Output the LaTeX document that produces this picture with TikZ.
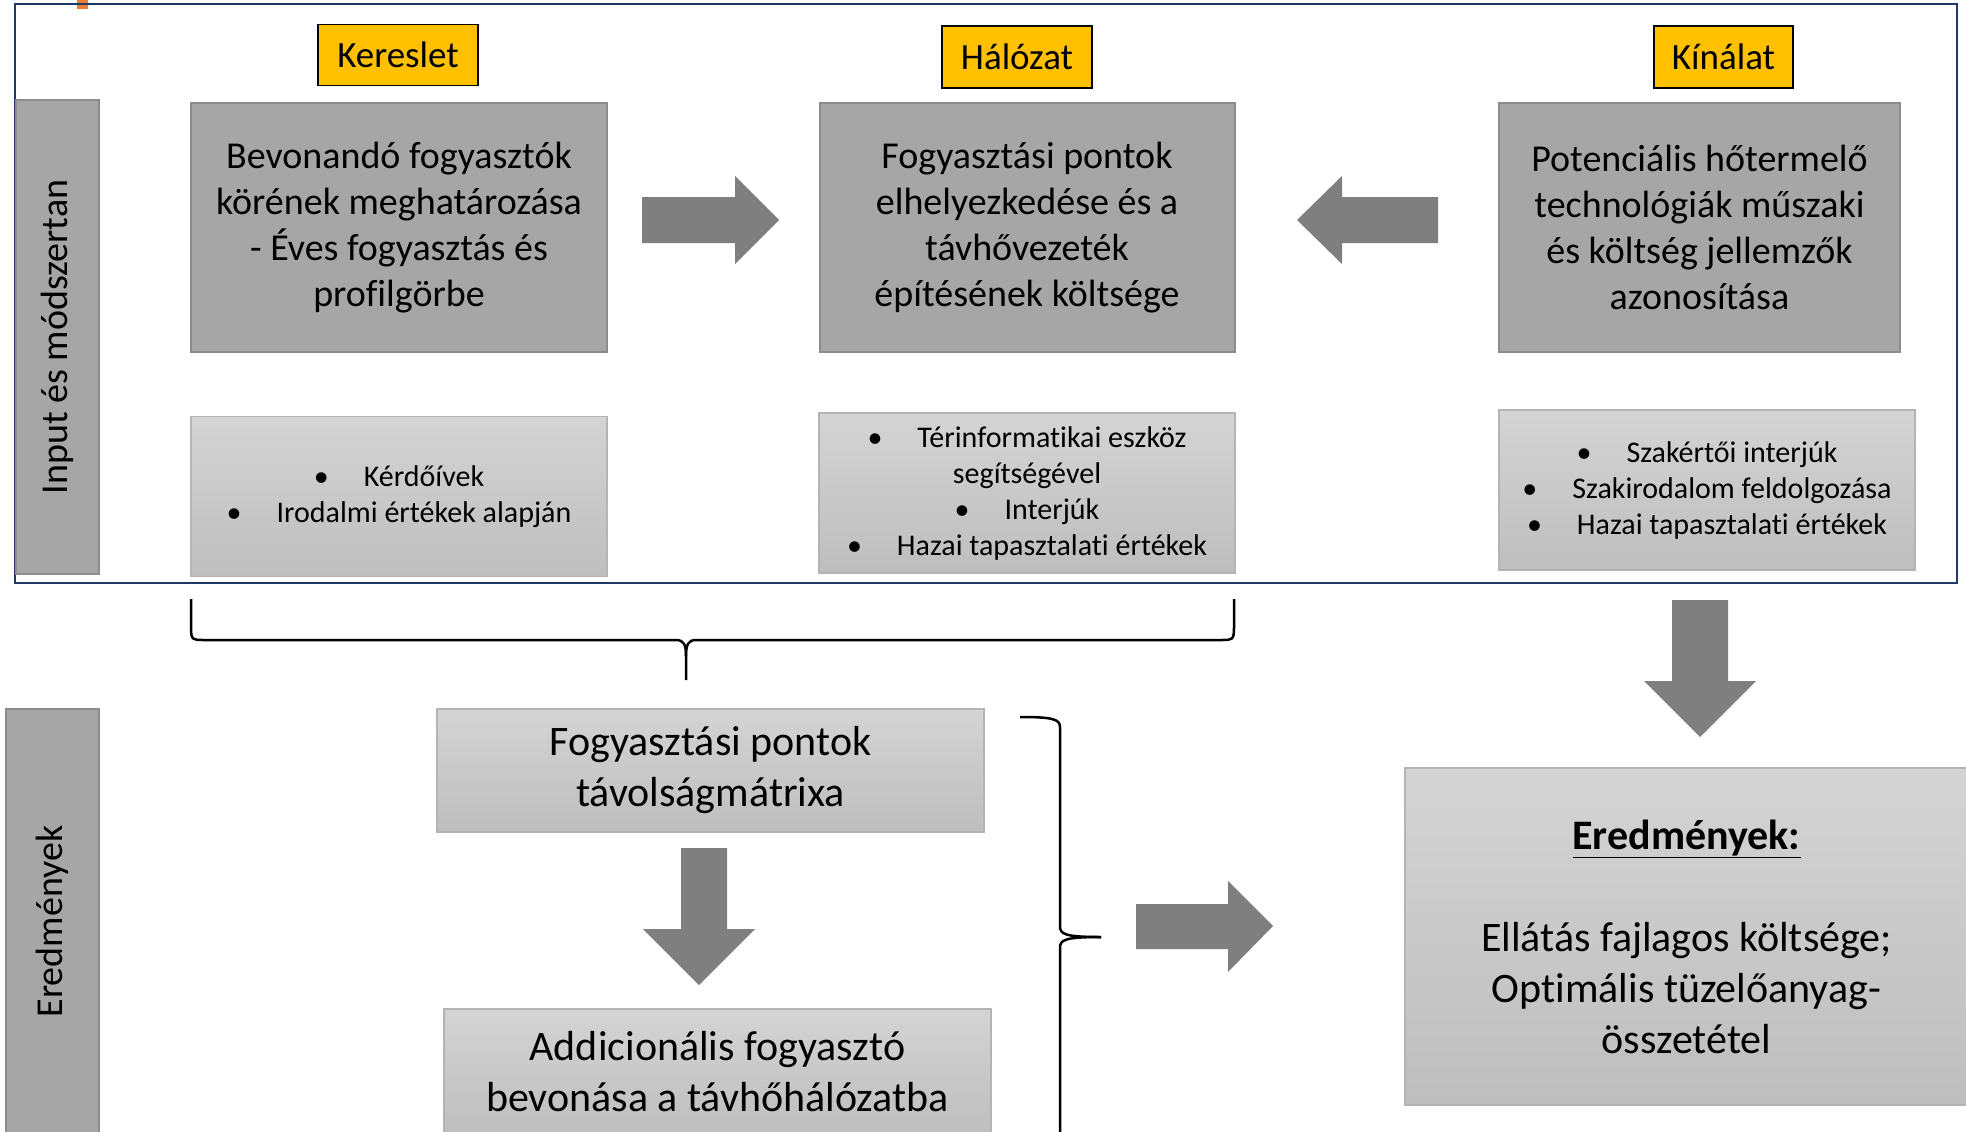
\documentclass[tikz,border=0pt]{standalone}
\usepackage{fontspec}
\setmainfont{Carlito}[Ligatures=NoCommon]

\definecolor{framenavy}{HTML}{203864}
\definecolor{headyellow}{HTML}{FFC000}
\definecolor{boxgray}{HTML}{A6A6A6}
\definecolor{boxedge}{HTML}{8C8C8C}
\definecolor{notetop}{HTML}{D4D4D4}
\definecolor{notebottom}{HTML}{BEBEBE}
\definecolor{noteedge}{HTML}{B4B4B4}
\definecolor{arrowgray}{HTML}{7F7F7F}
\definecolor{markorange}{HTML}{ED7D31}

\newcommand{\bul}[1]{•\hspace{35pt}#1}

\tikzset{
  headbox/.style={draw=black, line width=1.5pt, fill=headyellow, inner sep=0pt, font=\fontsize{37}{44}\selectfont},
  mainbox/.style={draw=boxedge, line width=2pt, fill=boxgray, inner sep=0pt, align=center, minimum height=249pt, font=\fontsize{38}{46}\selectfont},
  notebox/.style={draw=noteedge, line width=1.5pt, top color=notetop, bottom color=notebottom, inner sep=0pt, align=center, font=\fontsize{30}{36}\selectfont},
  resbox/.style={notebox, font=\fontsize{42}{51}\selectfont},
  sidebar/.style={draw=boxedge, line width=2pt, fill=boxgray, inner sep=0pt, rotate=90, font=\fontsize{38}{46}\selectfont},
  blockarrow/.style={fill=arrowgray},
  bracelines/.style={draw=black, line width=2.5pt}
}

\begin{document}
\begin{tikzpicture}[x=1pt, y=-1pt]
    \clip (0,0) rectangle (1966,1132);
    \fill[white] (0,0) rectangle (1966,1132);
    \fill[markorange] (77,0) rectangle (88,9);
    \draw[framenavy, line width=2.5pt] (15,4) rectangle (1957,583);

    \node[sidebar, minimum width=474pt, minimum height=83pt] (inputbar) at (57.5,337) {Input és módszertan};
    \node[sidebar, minimum width=425pt, minimum height=93pt] (resultbar) at (52.5,921.5) {Eredmények};

    \node[headbox, minimum width=160pt, minimum height=61pt] (demand) at (398,55) {Kereslet};
    \node[headbox, minimum width=150pt, minimum height=62pt] (network) at (1017,57) {Hálózat};
    \node[headbox, minimum width=139pt, minimum height=62pt] (supply) at (1723.5,57) {Kínálat};

    \node[mainbox, minimum width=416pt] (demandbox) at (399,227.5) {Bevonandó fogyasztók\\körének meghatározása\\- Éves fogyasztás és\\profilgörbe};
    \node[mainbox, minimum width=415pt] (networkbox) at (1027,227.5) {Fogyasztási pontok\\elhelyezkedése és a\\távhővezeték\\építésének költsége};
    \node[mainbox, minimum width=401pt] (supplybox) at (1699.5,227.5) {Potenciális hőtermelő\\technológiák műszaki\\és költség jellemzők\\azonosítása};

    \node[notebox, minimum width=416pt, minimum height=160pt] (demandnote) at (399,496.5) {\bul{Kérdőívek}\\\bul{Irodalmi értékek alapján}};
    \node[notebox, minimum width=416pt, minimum height=160pt] (networknote) at (1027,493) {\bul{Térinformatikai eszköz}\\segítségével\\\bul{Interjúk}\\\bul{Hazai tapasztalati értékek}};
    \node[notebox, minimum width=416pt, minimum height=160pt] (supplynote) at (1707,490) {\bul{Szakértői interjúk}\\\bul{Szakirodalom feldolgozása}\\\bul{Hazai tapasztalati értékek}};

    \node[resbox, minimum width=547pt, minimum height=123pt] (matrix) at (710.5,770.5) {Fogyasztási pontok\\távolságmátrixa};
    \node[resbox, minimum width=547pt, minimum height=126pt] (extra) at (717.5,1072) {Addicionális fogyasztó\\bevonása a távhőhálózatba};
    \node[resbox, minimum width=563pt, minimum height=337pt] (results) at (1686.5,936.5) {\underline{\textbf{Eredmények:}}\\[51pt]Ellátás fajlagos költsége;\\Optimális tüzelőanyag-\\összetétel};

    \fill[blockarrow] (642,197) -- (735,197) -- (735,176) -- (779,220) -- (735,264) -- (735,243) -- (642,243) -- cycle;
    \fill[blockarrow] (1438,197) -- (1342,197) -- (1342,176) -- (1297,220) -- (1342,264) -- (1342,243) -- (1438,243) -- cycle;
    \fill[blockarrow] (1672,600) -- (1672,681) -- (1644,681) -- (1700,737) -- (1756,681) -- (1728,681) -- (1728,600) -- cycle;
    \fill[blockarrow] (681,848) -- (681,929) -- (643,929) -- (699,985) -- (755,929) -- (727,929) -- (727,848) -- cycle;
    \fill[blockarrow] (1136,904) -- (1228,904) -- (1228,881) -- (1273,926) -- (1228,972) -- (1228,949) -- (1136,949) -- cycle;

    \draw[bracelines] (191,599) -- (191,628) .. controls (191,640) and (193,640) .. (203,640) -- (676,640) .. controls (684,640) and (686,645) .. (686,656) -- (686,680);
    \draw[bracelines] (1234,599) -- (1234,628) .. controls (1234,640) and (1232,640) .. (1222,640) -- (696,640) .. controls (688,640) and (686,645) .. (686,656);
    \draw[bracelines] (1020,717) .. controls (1052,717) and (1060,719) .. (1060,727) -- (1060,926) .. controls (1060,934) and (1064,937) .. (1101,937);
    \draw[bracelines] (1060,1160) -- (1060,948) .. controls (1060,940) and (1064,937) .. (1101,937);
\end{tikzpicture}
\end{document}
